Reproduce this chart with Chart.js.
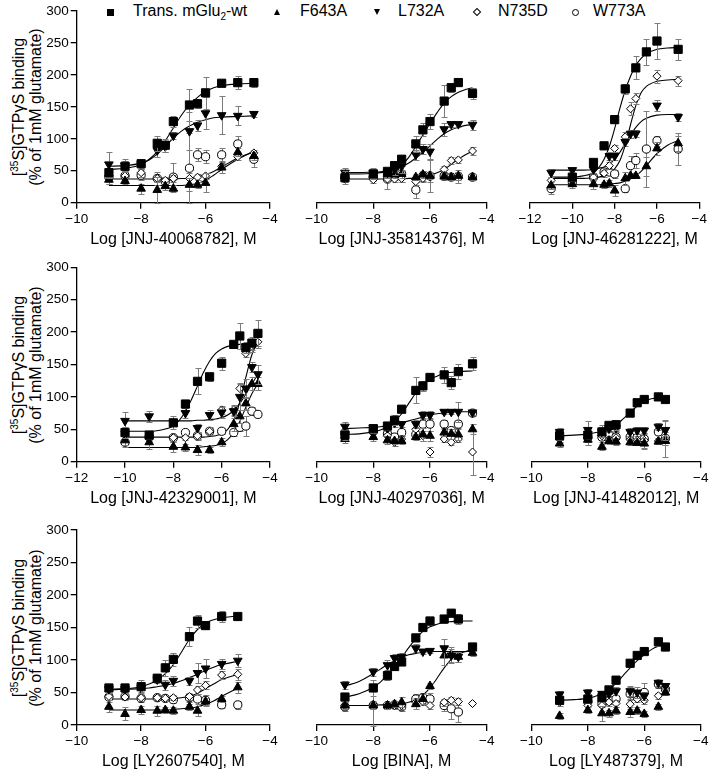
<!DOCTYPE html>
<html>
<head>
<meta charset="utf-8">
<script src="https://cdn.jsdelivr.net/npm/chart.js@4.4.1/dist/chart.umd.min.js"></script>
<style>
  body { margin: 0; background: #fff; width: 709px; height: 770px; position: relative; overflow: hidden;
         font-family: "Liberation Sans", Arial, sans-serif; color: #000; }
  canvas { position: absolute; }
  .ytitle { position: absolute; width: 220px; font-size: 16px; text-align: center;
            transform: translate(-50%, -50%) rotate(-90deg); white-space: nowrap; }
  .ytitle div { height: 17px; line-height: 17px; }
  .sup { font-size: 10px; position: relative; top: -6px; }
  .legend-text { position: absolute; top: 1px; font-size: 16px; line-height: 20px; white-space: nowrap; }
  .sub { font-size: 10px; position: relative; top: 4px; }
  .mk { position: absolute; box-sizing: border-box; }
</style>
</head>
<body>
<div id="legend"></div>
<div class="ytitle" style="left:27px; top:107px"><div>[<span class="sup">35</span>S]GTPγS binding</div><div>(% of 1mM glutamate)</div></div>
<div class="ytitle" style="left:27px; top:365px"><div>[<span class="sup">35</span>S]GTPγS binding</div><div>(% of 1mM glutamate)</div></div>
<div class="ytitle" style="left:27px; top:628px"><div>[<span class="sup">35</span>S]GTPγS binding</div><div>(% of 1mM glutamate)</div></div>
<script>
const SERIES = ["wt", "F643A", "L732A", "N735D", "W773A"];
const SERIES_LABELS = ["Trans. mGlu2-wt", "F643A", "L732A", "N735D", "W773A"];

// ---- panel 1: JNJ-40068782
const p1Conc = [-9, -8.5, -8, -7.5, -7.25, -7, -6.5, -6.25, -6, -5.5, -5, -4.5];
const p1Wt = [47, 57, 61, 93, 90, 127, 153, 155, 172, 187, 188, 188];
const p1WtErr = [8, 8, 6, 12, 10, 8, 25, 6, 25, 5, 10, 7];
const p1F643A = [36, 34, 22, 20, 26, 22, 28, 28, 31, 55, 79, 73];
const p1F643AErr = [6, 5, 8, 20, 6, 6, 10, 5, 15, 8, 6, 6];
const p1L732A = [60, 58, 60, 82, 88, 105, 112, 121, 140, 137, 136, 139];
const p1L732AErr = [20, 10, 8, 10, 8, 5, 30, 8, 25, 30, 15, 5];
const p1N735D = [43, 42, 47, 38, 35, 38, 38, 40, 42, 57, 72, 78];
const p1N735DErr = [8, 6, 6, 6, 5, 5, 8, 5, 5, 5, 5, 5];
const p1W773A = [40, 42, 43, 38, 33, 40, 54, 75, 72, 75, 92, 68];
const p1W773AErr = [10, 8, 8, 10, 8, 22, 55, 10, 10, 10, 12, 12];
const p1CurveX = [-9, -8.5, -8, -7.75, -7.5, -7.25, -7, -6.75, -6.5, -6.25, -6, -5.75, -5.5, -5, -4.5];
const p1CurveWt = [52, 54, 60, 68, 80, 97, 117, 137, 153, 165, 174, 180, 183, 186, 187];
const p1CurveL732A = [57, 58, 62, 67, 76, 88, 101, 112, 120, 126, 130, 133, 134, 135, 136];
const p1CurveN735D = [37, 37, 37, 37, 37, 37, 37, 38, 38, 40, 44, 49, 56, 70, 80];
const p1CurveF643A = [27, 27, 27, 27, 27, 27, 27, 27, 28, 30, 35, 43, 52, 68, 80];

// ---- panel 2: JNJ-35814376
const p2Conc = [-9, -8, -7.5, -7.25, -7, -6.5, -6.25, -6, -5.5, -5.25, -5, -4.5];
const p2Wt = [39, 45, 49, 58, 68, 92, 114, 127, 159, 180, 188, 171];
const p2WtErr = [10, 8, 6, 6, 6, 12, 10, 12, 25, 6, 6, 8];
const p2F643A = [42, 44, 45, 44, 45, 40, 44, 42, 41, 40, 42, 40];
const p2F643AErr = [6, 5, 7, 5, 6, 5, 6, 5, 4, 5, 6, 5];
const p2L732A = [47, 47, 47, 52, 57, 75, 84, 80, 115, 123, 123, 122];
const p2L732AErr = [8, 8, 6, 8, 10, 8, 8, 12, 10, 4, 4, 8];
const p2N735D = [37, 36, 37, 37, 38, 33, 38, 40, 52, 66, 67, 81];
const p2N735DErr = [5, 5, 4, 4, 5, 6, 5, 8, 5, 5, 5, 6];
const p2W773A = [40, 40, 37, 45, 45, 20, 42, 42, 42, 40, 41, 40];
const p2W773AErr = [6, 6, 15, 10, 12, 12, 8, 25, 6, 5, 10, 4];
const p2CurveX = [-9, -8.5, -8, -7.5, -7.25, -7, -6.75, -6.5, -6.25, -6, -5.75, -5.5, -5.25, -5, -4.75, -4.5];
const p2CurveWt = [45, 45, 46, 49, 53, 59, 71, 88, 106, 124, 141, 156, 166, 173, 177, 180];
const p2CurveL732A = [47, 47, 48, 49, 52, 56, 62, 70, 79, 89, 99, 108, 114, 118, 121, 122];
const p2CurveN735D = [37, 37, 37, 37, 37, 37, 38, 38, 40, 43, 47, 52, 60, 68, 75, 81];

// ---- panel 3: JNJ-46281222
const p3Conc = [-11, -10, -9, -8.5, -8.25, -8, -7.5, -7.25, -7, -6.5, -6, -5];
const p3Wt = [null, 40, 63, 89, null, 130, 178, null, 211, 236, 253, 240];
const p3WtErr = [null, 6, 6, 5, null, 6, 8, null, 18, 20, 28, 16];
const p3F643A = [27, 29, 29, 28, 30, 19, 38, 42, 42, 57, 85, 93];
const p3F643AErr = [6, 6, 8, 5, 6, 8, 10, 4, 4, 15, 10, 12];
const p3L732A = [47, 51, 52, null, 73, 73, 95, 108, 108, null, 152, 134];
const p3L732AErr = [6, 4, 5, null, 6, 6, 6, 6, 5, null, 8, 6];
const p3N735D = [35, 37, 40, 46, 58, 85, 103, 147, 163, null, 198, 191];
const p3N735DErr = [6, 5, 5, 5, 5, 6, 8, 10, 8, null, 10, 8];
const p3W773A = [22, 32, 40, 48, 48, 45, 22, 58, 66, 84, 97, 84];
const p3W773AErr = [8, 6, 6, 5, 5, 6, 5, 15, 12, 60, 8, 25];
const p3CurveX = [-11, -10, -9.5, -9, -8.75, -8.5, -8.25, -8, -7.75, -7.5, -7.25, -7, -6.75, -6.5, -6, -5.5, -5];
const p3CurveWt = [40, 40, 42, 47, 55, 68, 88, 116, 148, 176, 198, 215, 226, 233, 240, 242, 243];
const p3CurveL732A = [51, 51, 51, 52, 54, 56, 61, 68, 79, 92, 106, 118, 127, 132, 137, 138, 138];
const p3CurveN735D = [38, 38, 38, 39, 40, 42, 46, 53, 66, 90, 122, 152, 172, 182, 190, 192, 193];
const p3CurveF643A = [28, 28, 28, 28, 28, 29, 29, 30, 31, 34, 37, 42, 49, 58, 77, 90, 97];

// ---- panel 4: JNJ-42329001
const p4Conc = [-10, -9, -8, -7.5, -7, -6.5, -6, -5.5, -5.25, -5, -4.75, -4.5];
const p4Wt = [45, 41, 60, 89, 124, 131, 152, 181, 194, 176, 183, 198];
const p4WtErr = [8, 6, 10, 6, 20, 6, 10, 4, 20, 8, 10, 20];
const p4F643A = [33, 30, 23, 22, 18, 18, 30, 58, 70, 90, 120, 120];
const p4F643AErr = [8, 10, 8, 6, 8, 4, 6, 10, 10, 10, 10, 10];
const p4L732A = [63, 70, null, 75, 52, 72, 76, 78, 100, 113, 146, 135];
const p4L732AErr = [14, 8, null, 8, 6, 8, 8, 8, 20, 15, 8, 15];
const p4N735D = [47, 38, 37, 37, 40, 47, 80, 80, 113, 167, 178, 185];
const p4N735DErr = [6, 5, 5, 4, 5, 6, 6, 8, 8, 6, 8, 10];
const p4W773A = [30, 38, 37, 45, 40, 47, 47, 45, 53, 55, 78, 73];
const p4W773AErr = [8, 6, 6, 6, 6, 5, 5, 6, 6, 15, 6, 4];
const p4CurveX = [-10, -9, -8.5, -8, -7.75, -7.5, -7.25, -7, -6.75, -6.5, -6.25, -6, -5.75, -5.5, -5.25, -5, -4.75, -4.5];
const p4CurveWt = [47, 47, 49, 55, 64, 78, 96, 117, 138, 155, 167, 174, 178, 180, 181, 181, 181, 181];
const p4CurveL732A = [63, 63, 63, 63, 63, 63, 63, 64, 64, 65, 66, 68, 72, 79, 90, 104, 120, 135];
const p4CurveN735D = [38, 38, 38, 38, 38, 38, 38, 38, 38, 39, 40, 43, 50, 64, 92, 130, 165, 185];
const p4CurveF643A = [22, 22, 22, 22, 22, 22, 22, 22, 23, 24, 25, 28, 34, 45, 62, 84, 105, 120];

// ---- panel 5: JNJ-40297036
const p5Conc = [-9, -8, -7.5, -7.25, -7, -6.5, -6.25, -6, -5.5, -5.25, -5, -4.5];
const p5Wt = [41, 51, 55, 64, 81, 110, 117, 130, 134, 122, 139, 151];
const p5WtErr = [8, 6, 6, 8, 5, 20, 8, 6, 12, 10, 12, 10];
const p5F643A = [35, 38, 33, 32, 32, 38, 42, 40, 45, 43, 42, 50];
const p5F643AErr = [6, 6, 6, 5, 5, 5, 10, 8, 6, 8, 8, 8];
const p5L732A = [54, 52, 52, 60, 58, 58, 72, 72, 77, 77, 77, 76];
const p5L732AErr = [8, 5, 5, 6, 5, 6, 6, 6, 4, 4, 15, 4];
const p5N735D = [42, 45, 40, 30, 35, 50, 40, 15, 35, 30, 35, 15];
const p5N735DErr = [6, 5, 5, 6, 6, 8, 8, 8, 5, 5, 5, 35];
const p5W773A = [45, 47, 43, 38, 45, 42, 58, 58, 58, 48, 58, 75];
const p5W773AErr = [6, 5, 5, 6, 6, 6, 10, 10, 6, 6, 6, 4];
const p5CurveX = [-9, -8.5, -8, -7.75, -7.5, -7.25, -7, -6.75, -6.5, -6.25, -6, -5.75, -5.5, -5, -4.5];
const p5CurveWt = [42, 43, 46, 49, 54, 62, 74, 90, 106, 118, 127, 132, 136, 139, 140];
const p5CurveL732A = [51, 52, 53, 54, 55, 57, 60, 63, 66, 69, 72, 74, 75, 77, 77];

// ---- panel 6: JNJ-41482012
const p6Conc = [-9, -8, -7.5, -7.25, -7, -6.5, -6.25, -6, -5.5, -5.25];
const p6Wt = [40, 41, 46, 56, 57, 75, 91, 96, 100, 96];
const p6WtErr = [6, 6, 8, 5, 8, 4, 5, 6, 3, 3];
const p6F643A = [28, 34, 23, 32, 31, 30, 29, 28, 31, 32];
const p6F643AErr = [6, 8, 5, 4, 6, 5, 4, 8, 4, 6];
const p6L732A = [46, 49, 46, 51, 52, 46, 48, 48, 54, 49];
const p6L732AErr = [6, 14, 8, 5, 6, 6, 5, 5, 5, 15];
const p6N735D = [35, 37, 40, 34, 37, 34, 33, 33, 32, 35];
const p6N735DErr = [6, 12, 10, 5, 10, 5, 6, 12, 4, 28];
const p6W773A = [38, 38, 38, 42, 38, 38, 37, 35, 46, 36];
const p6W773AErr = [8, 8, 18, 6, 8, 6, 6, 10, 5, 10];
const p6CurveX = [-9, -8.5, -8, -7.5, -7.25, -7, -6.75, -6.5, -6.25, -6, -5.75, -5.5, -5.25];
const p6CurveWt = [40, 41, 43, 47, 51, 57, 66, 76, 86, 93, 97, 99, 100];

// ---- panel 7: LY2607540
const p7Conc = [-9, -8.5, -8, -7.5, -7.25, -7, -6.5, -6.25, -6, -5.5, -5];
const p7Wt = [57, 57, 59, 72, 88, 101, 136, 160, 153, 167, 167];
const p7WtErr = [5, 5, 10, 6, 12, 10, 15, 10, 6, 8, 5];
const p7F643A = [28, 17, 23, 22, 23, 22, 28, 22, 36, 40, 58];
const p7F643AErr = [8, 10, 6, 8, 5, 5, 5, 8, 5, 5, 8];
const p7L732A = [55, 55, 57, 70, 62, 68, 68, 80, 87, 94, 99];
const p7L732AErr = [5, 5, 6, 6, 8, 8, 6, 15, 15, 8, 10];
const p7N735D = [44, 43, 42, 42, 41, 42, 44, 54, 61, 77, 78];
const p7N735DErr = [5, 4, 5, 4, 4, 4, 6, 6, 6, 6, 8];
const p7W773A = [43, 44, 41, 42, 41, 39, 42, 40, 38, 31, 31];
const p7W773AErr = [5, 4, 5, 4, 4, 5, 6, 8, 8, 5, 6];
const p7CurveX = [-9, -8.5, -8, -7.75, -7.5, -7.25, -7, -6.75, -6.5, -6.25, -6, -5.75, -5.5, -5];
const p7CurveWt = [55, 56, 59, 63, 69, 79, 93, 112, 132, 147, 157, 162, 165, 168];
const p7CurveL732A = [54, 55, 56, 57, 59, 61, 64, 68, 73, 78, 84, 89, 93, 98];
const p7CurveN735D = [40, 40, 40, 40, 40, 40, 41, 42, 44, 49, 56, 63, 70, 78];
const p7CurveF643A = [23, 23, 23, 23, 23, 23, 24, 25, 26, 28, 32, 37, 44, 57];

// ---- panel 8: BINA
const p8Conc = [-9, -8, -7.5, -7.25, -7, -6.5, -6.25, -6, -5.5, -5.25, -5, -4.5];
const p8Wt = [43, 57, 76, 90, 97, 134, 150, 160, 163, 172, 163, 120];
const p8WtErr = [4, 12, 6, 5, 5, 5, 6, 6, 6, 4, 8, 5];
const p8F643A = [30, 30, 30, 32, 35, 32, 40, 60, 107, 108, 105, 111];
const p8F643AErr = [5, 5, 5, 5, 8, 8, 8, 5, 15, 12, 8, 5];
const p8L732A = [62, 82, 92, 103, 105, 118, 113, 114, 118, 107, 105, null];
const p8L732AErr = [6, 6, 8, 6, 6, 6, 3, 3, 15, 10, 8, null];
const p8N735D = [30, 32, 30, 30, 30, 35, 36, 30, 35, 38, 36, 33];
const p8N735DErr = [5, 5, 5, 5, 5, 6, 5, 6, 5, 5, 5, 0];
const p8W773A = [28, 30, 30, 31, 28, 40, 42, 40, 30, 25, 20, null];
const p8W773AErr = [6, 32, 5, 5, 6, 8, 8, 10, 8, 15, 15, null];
const p8CurveX = [-9, -8.5, -8, -7.75, -7.5, -7.25, -7, -6.75, -6.5, -6.25, -6, -5.75, -5.5, -5.25, -5, -4.5];
const p8CurveWt = [43, 48, 58, 66, 77, 90, 104, 119, 133, 144, 151, 155, 158, 159, 160, 160];
const p8CurveL732A = [60, 67, 79, 86, 93, 99, 104, 108, 110, 112, 113, 113, 113, 113, 113, 113];
const p8CurveF643A = [30, 30, 30, 31, 31, 32, 33, 35, 39, 46, 57, 72, 88, 101, 109, 116];

// ---- panel 9: LY487379
const p9Conc = [-9, -8, -7.5, -7.25, -7, -6.5, -6.25, -6, -5.5, -5.25];
const p9Wt = [38, 40, 42, 54, 69, 95, 107, 113, 128, 120];
const p9WtErr = [5, 6, 5, 5, 6, 3, 3, 3, 6, 3];
const p9F643A = [14, 23, 18, 18, 22, 20, 22, 17, 28, 50];
const p9F643AErr = [5, 5, 12, 5, 5, 8, 5, 5, 5, 4];
const p9L732A = [47, 50, 48, 48, 52, 52, 50, 45, 65, 60];
const p9L732AErr = [6, 6, 5, 5, 6, 8, 8, 6, 5, 5];
const p9N735D = [35, 30, 30, 35, 33, 32, 40, 38, 45, 57];
const p9N735DErr = [5, 8, 8, 5, 5, 8, 5, 6, 5, 4];
const p9W773A = [38, 36, 33, 38, 40, 48, 45, 50, 63, 55];
const p9W773AErr = [5, 6, 6, 5, 5, 10, 6, 15, 6, 5];
const p9CurveX = [-9, -8.5, -8, -7.75, -7.5, -7.25, -7, -6.75, -6.5, -6.25, -6, -5.75, -5.5, -5.25];
const p9CurveWt = [38, 39, 41, 44, 48, 55, 64, 76, 88, 99, 108, 116, 121, 124];

const xTitles = [
  "Log [JNJ-40068782], M", "Log [JNJ-35814376], M", "Log [JNJ-46281222], M",
  "Log [JNJ-42329001], M", "Log [JNJ-40297036], M", "Log [JNJ-41482012], M",
  "Log [LY2607540], M", "Log [BINA], M", "Log [LY487379], M",
];
const xMins = [-10, -10, -12, -12, -10, -10, -10, -10, -10];
const yTicks = [0, 50, 100, 150, 200, 250, 300];

// marker look per series, drawn bottom to top: W773A, N735D, F643A, L732A, wt
const markerStyle = {
  wt:    { pointStyle: "rect", pointRadius: 5.8, pointBackgroundColor: "#000", order: 1 },
  L732A: { pointStyle: "triangle", pointRadius: 5, pointRotation: 180, pointBackgroundColor: "#000", order: 2 },
  F643A: { pointStyle: "triangle", pointRadius: 5, pointBackgroundColor: "#000", order: 3 },
  N735D: { pointStyle: "rectRot", pointRadius: 4, pointBackgroundColor: "#fff", order: 4 },
  W773A: { pointStyle: "circle", pointRadius: 4.1, pointBackgroundColor: "#fff", order: 5 },
};

const panels = [
  { box: [76.7, 11, 270, 202.7], yAxis: true, conc: p1Conc,
    values: { wt: p1Wt, F643A: p1F643A, L732A: p1L732A, N735D: p1N735D, W773A: p1W773A },
    errors: { wt: p1WtErr, F643A: p1F643AErr, L732A: p1L732AErr, N735D: p1N735DErr, W773A: p1W773AErr },
    curveX: p1CurveX, curves: [p1CurveWt, p1CurveL732A, p1CurveN735D, p1CurveF643A] },
  { box: [292.3, 11, 486.7, 202.7], yAxis: false, conc: p2Conc,
    values: { wt: p2Wt, F643A: p2F643A, L732A: p2L732A, N735D: p2N735D, W773A: p2W773A },
    errors: { wt: p2WtErr, F643A: p2F643AErr, L732A: p2L732AErr, N735D: p2N735DErr, W773A: p2W773AErr },
    curveX: p2CurveX, curves: [p2CurveWt, p2CurveL732A, p2CurveN735D] },
  { box: [506, 11, 699.3, 202.7], yAxis: false, conc: p3Conc,
    values: { wt: p3Wt, F643A: p3F643A, L732A: p3L732A, N735D: p3N735D, W773A: p3W773A },
    errors: { wt: p3WtErr, F643A: p3F643AErr, L732A: p3L732AErr, N735D: p3N735DErr, W773A: p3W773AErr },
    curveX: p3CurveX, curves: [p3CurveWt, p3CurveL732A, p3CurveN735D, p3CurveF643A] },
  { box: [76.7, 267.3, 270, 461.7], yAxis: true, conc: p4Conc,
    values: { wt: p4Wt, F643A: p4F643A, L732A: p4L732A, N735D: p4N735D, W773A: p4W773A },
    errors: { wt: p4WtErr, F643A: p4F643AErr, L732A: p4L732AErr, N735D: p4N735DErr, W773A: p4W773AErr },
    curveX: p4CurveX, curves: [p4CurveWt, p4CurveL732A, p4CurveN735D, p4CurveF643A] },
  { box: [292.3, 267.3, 486.7, 461.7], yAxis: false, conc: p5Conc,
    values: { wt: p5Wt, F643A: p5F643A, L732A: p5L732A, N735D: p5N735D, W773A: p5W773A },
    errors: { wt: p5WtErr, F643A: p5F643AErr, L732A: p5L732AErr, N735D: p5N735DErr, W773A: p5W773AErr },
    curveX: p5CurveX, curves: [p5CurveWt, p5CurveL732A] },
  { box: [506.7, 267.3, 700.7, 461.7], yAxis: false, conc: p6Conc,
    values: { wt: p6Wt, F643A: p6F643A, L732A: p6L732A, N735D: p6N735D, W773A: p6W773A },
    errors: { wt: p6WtErr, F643A: p6F643AErr, L732A: p6L732AErr, N735D: p6N735DErr, W773A: p6W773AErr },
    curveX: p6CurveX, curves: [p6CurveWt] },
  { box: [76.7, 530, 270, 725], yAxis: true, conc: p7Conc,
    values: { wt: p7Wt, F643A: p7F643A, L732A: p7L732A, N735D: p7N735D, W773A: p7W773A },
    errors: { wt: p7WtErr, F643A: p7F643AErr, L732A: p7L732AErr, N735D: p7N735DErr, W773A: p7W773AErr },
    curveX: p7CurveX, curves: [p7CurveWt, p7CurveL732A, p7CurveN735D, p7CurveF643A] },
  { box: [292.3, 530, 486.7, 725], yAxis: false, conc: p8Conc,
    values: { wt: p8Wt, F643A: p8F643A, L732A: p8L732A, N735D: p8N735D, W773A: p8W773A },
    errors: { wt: p8WtErr, F643A: p8F643AErr, L732A: p8L732AErr, N735D: p8N735DErr, W773A: p8W773AErr },
    curveX: p8CurveX, curves: [p8CurveWt, p8CurveL732A, p8CurveF643A] },
  { box: [506.7, 530, 700.7, 725], yAxis: false, conc: p9Conc,
    values: { wt: p9Wt, F643A: p9F643A, L732A: p9L732A, N735D: p9N735D, W773A: p9W773A },
    errors: { wt: p9WtErr, F643A: p9F643AErr, L732A: p9L732AErr, N735D: p9N735DErr, W773A: p9W773AErr },
    curveX: p9CurveX, curves: [p9CurveWt] },
];

Chart.defaults.font.family = '"Liberation Sans", Arial, sans-serif';
Chart.defaults.color = "#000";

const errorBars = {
  id: "errorBars",
  beforeDatasetDraw(chart, args) {
    const ds = chart.data.datasets[args.index];
    if (!ds.errors) return;
    const xs = chart.scales.x;
    const ys = chart.scales.y;
    const ctx = chart.ctx;
    ctx.save();
    ctx.strokeStyle = "#7c7c7c";
    ctx.lineWidth = 1;
    ds.data.forEach((pt, i) => {
      const err = ds.errors[i];
      if (!err) return;
      const px = Math.round(xs.getPixelForValue(pt.x)) + 0.5;
      const top = Math.round(ys.getPixelForValue(pt.y + err)) + 0.5;
      const bot = Math.round(ys.getPixelForValue(pt.y - err)) + 0.5;
      ctx.beginPath();
      ctx.moveTo(px, top);
      ctx.lineTo(px, bot);
      ctx.moveTo(px - 3, top);
      ctx.lineTo(px + 3, top);
      ctx.moveTo(px - 3, bot);
      ctx.lineTo(px + 3, bot);
      ctx.stroke();
    });
    ctx.restore();
  },
};

function minusSign(value) {
  return value < 0 ? "\u2212" + Math.abs(value) : String(value);
}

function buildDatasets(panel) {
  const datasets = [];
  panel.curves.forEach((ys) => {
    datasets.push({
      data: panel.curveX.map((x, i) => ({ x, y: ys[i] })),
      showLine: true,
      borderColor: "#000",
      borderWidth: 1.1,
      pointRadius: 0,
      cubicInterpolationMode: "monotone",
      order: 10,
      clip: false,
    });
  });
  SERIES.forEach((name) => {
    const vals = panel.values[name];
    const errs = panel.errors[name];
    const data = [];
    const errors = [];
    panel.conc.forEach((x, i) => {
      if (vals[i] === null) return;
      data.push({ x, y: vals[i] });
      errors.push(errs[i]);
    });
    datasets.push({
      data,
      errors,
      borderColor: "#000",
      borderWidth: 1,
      pointBorderColor: "#000",
      pointBorderWidth: 1,
      clip: false,
      ...markerStyle[name],
    });
  });
  return datasets;
}

panels.forEach((panel, idx) => {
  const [L, T, R, B] = panel.box;
  const cLeft = panel.yAxis ? 0 : Math.floor(L) - 24;
  const cTop = Math.floor(T) - 10;
  const cW = Math.ceil(R) + 14 - cLeft;
  const cH = Math.ceil(B) + 46 - cTop;

  const canvas = document.createElement("canvas");
  canvas.width = cW;
  canvas.height = cH;
  canvas.style.left = cLeft + "px";
  canvas.style.top = cTop + "px";
  canvas.style.width = cW + "px";
  canvas.style.height = cH + "px";
  document.body.appendChild(canvas);

  const axisLine = { display: true, color: "#000", width: 1.3 };
  const tickGrid = { display: true, drawOnChartArea: false, drawTicks: true, tickLength: 6, color: "#000", lineWidth: 1.3 };

  new Chart(canvas, {
    type: "scatter",
    data: { datasets: buildDatasets(panel) },
    options: {
      responsive: false,
      animation: false,
      events: [],
      layout: {
        padding: {
          left: panel.yAxis ? 0 : L - cLeft,
          top: T - cTop,
          right: cLeft + cW - R,
          bottom: 0,
        },
      },
      plugins: { legend: { display: false }, tooltip: { enabled: false } },
      scales: {
        x: {
          type: "linear",
          min: xMins[idx],
          max: -4,
          ticks: { stepSize: 2, autoSkip: false, maxRotation: 0, padding: 2,
                   font: { size: 13.5 }, color: "#000", callback: minusSign },
          grid: tickGrid,
          border: axisLine,
          title: { display: true, text: xTitles[idx], color: "#000",
                   font: { size: 16 }, padding: { top: 3, bottom: 0 } },
          afterFit: (scale) => { scale.height = cTop + cH - B; },
        },
        y: {
          display: panel.yAxis,
          min: yTicks[0],
          max: yTicks[yTicks.length - 1],
          afterBuildTicks: (scale) => { scale.ticks = yTicks.map((v) => ({ value: v })); },
          ticks: { padding: 2, font: { size: 13.5 }, color: "#000" },
          grid: tickGrid,
          border: axisLine,
          afterFit: (scale) => { scale.width = L - cLeft; },
        },
      },
    },
    plugins: [errorBars],
  });
});

// legend row along the top
const legendEl = document.getElementById("legend");
const legendItems = [
  { marker: "square", mx: 110, tx: 133, html: "Trans. mGlu<span class=\"sub\">2</span>-wt" },
  { marker: "up", mx: 277, tx: 300, html: SERIES_LABELS[1] },
  { marker: "down", mx: 377, tx: 398, html: SERIES_LABELS[2] },
  { marker: "diamond", mx: 477, tx: 498, html: SERIES_LABELS[3] },
  { marker: "circle", mx: 575, tx: 593, html: SERIES_LABELS[4] },
];
legendItems.forEach((item) => {
  const mk = document.createElement("div");
  mk.className = "mk";
  const cy = 12;
  if (item.marker === "square") {
    Object.assign(mk.style, { left: item.mx - 3.5 + "px", top: cy - 3.5 + "px", width: "7px", height: "7px", background: "#000" });
  } else if (item.marker === "up" || item.marker === "down") {
    Object.assign(mk.style, { left: item.mx - 3.5 + "px", top: cy - 3 + "px", width: "0", height: "0",
      borderLeft: "3.5px solid transparent", borderRight: "3.5px solid transparent" });
    if (item.marker === "up") mk.style.borderBottom = "6px solid #000";
    else mk.style.borderTop = "6px solid #000";
  } else if (item.marker === "diamond") {
    Object.assign(mk.style, { left: item.mx - 3 + "px", top: cy - 3 + "px", width: "6px", height: "6px",
      border: "1px solid #000", transform: "rotate(45deg)" });
  } else {
    Object.assign(mk.style, { left: item.mx - 3.5 + "px", top: cy - 3.5 + "px", width: "7px", height: "7px",
      border: "1px solid #000", borderRadius: "50%" });
  }
  legendEl.appendChild(mk);
  const txt = document.createElement("div");
  txt.className = "legend-text";
  txt.style.left = item.tx + "px";
  txt.innerHTML = item.html;
  legendEl.appendChild(txt);
});
</script>
</body>
</html>
